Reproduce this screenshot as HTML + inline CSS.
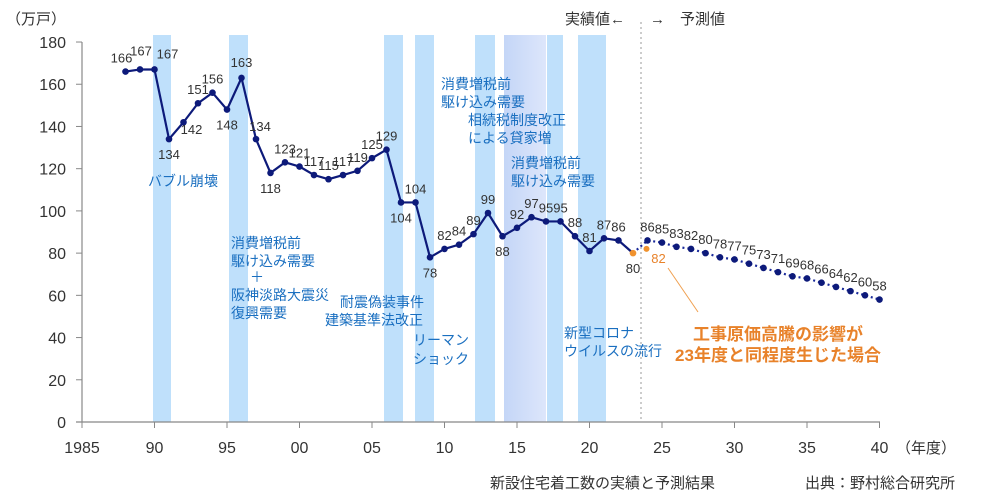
<!DOCTYPE html>
<html><head><meta charset="utf-8"><style>
body{margin:0;background:#fff;}
svg{display:block;font-family:"Liberation Sans","Noto Sans CJK JP",sans-serif;}
</style></head><body>
<svg id="s" width="1000" height="500" viewBox="0 0 1000 500" xmlns="http://www.w3.org/2000/svg">
<defs><linearGradient id="lg" x1="0" x2="1"><stop offset="0" stop-color="#c4d6f7"/><stop offset="1" stop-color="#dde6fb"/></linearGradient></defs>
<g fill="#bfe0fb">
<rect x="153" y="35" width="18" height="387"/>
<rect x="229" y="35" width="19" height="387"/>
<rect x="384" y="35" width="19" height="387"/>
<rect x="415" y="35" width="19" height="387"/>
<rect x="475" y="35" width="20" height="387"/>
<rect x="547" y="35" width="16" height="387"/>
<rect x="578" y="35" width="28" height="387"/>
</g>
<rect x="504" y="35" width="42" height="387" fill="url(#lg)"/>
<line x1="641" y1="22" x2="641" y2="422" stroke="#999" stroke-width="1" stroke-dasharray="2,3"/>
<g id="axes" stroke="#888" stroke-width="1.2" fill="none">
<line x1="82" y1="42" x2="82" y2="422"/>
<line x1="76" y1="422" x2="880" y2="422"/>
</g>
<g id="g"></g>
<g font-size="14" fill="#1a6fc0">
<text x="148" y="186">バブル崩壊</text>
<text x="231" y="248">消費増税前</text>
<text x="231" y="266">駆け込み需要</text>
<text x="250" y="282">＋</text>
<text x="231" y="300">阪神淡路大震災</text>
<text x="231" y="318">復興需要</text>
<text x="340" y="307">耐震偽装事件</text>
<text x="325" y="325">建築基準法改正</text>
<text x="413" y="345">リーマン</text>
<text x="413" y="364">ショック</text>
<text x="441" y="89">消費増税前</text>
<text x="441" y="107">駆け込み需要</text>
<text x="468" y="125">相続税制度改正</text>
<text x="468" y="143">による貸家増</text>
<text x="511" y="168">消費増税前</text>
<text x="511" y="186">駆け込み需要</text>
<text x="564" y="338">新型コロナ</text>
<text x="564" y="356">ウイルスの流行</text>
</g>
<g font-size="15" fill="#333">
<text x="565" y="24">実績値←</text>
<text x="650" y="24">→　予測値</text>
<text x="6" y="24">（万戸）</text>
<text x="490" y="488">新設住宅着工数の実績と予測結果</text>
<text x="805" y="488">出典：野村総合研究所</text>
<text x="896" y="453">（年度）</text>
</g>
<line x1="668" y1="268" x2="698" y2="312" stroke="#f0a050" stroke-width="1"/>
<g font-size="17" font-weight="bold" fill="#e8822a" text-anchor="middle">
<text x="778" y="340">工事原価高騰の影響が</text>
<text x="778" y="361">23年度と同程度生じた場合</text>
</g>
</svg>
<script>
const g=document.getElementById('g');const NS='http://www.w3.org/2000/svg';
function el(t,a,txt){const e=document.createElementNS(NS,t);for(const k in a)e.setAttribute(k,a[k]);if(txt!==undefined)e.textContent=txt;g.appendChild(e);return e;}
const X=y=>82+(y-1985)*14.5, Y=v=>422-v*2.111;
for(let v=0;v<=180;v+=20){el('line',{x1:76,y1:Y(v),x2:82,y2:Y(v),stroke:'#888'});el('text',{x:66,y:Y(v)+6,'font-size':16,fill:'#333','text-anchor':'end'},v);}
const lab={1985:'1985',1990:'90',1995:'95',2000:'00',2005:'05',2010:'10',2015:'15',2020:'20',2025:'25',2030:'30',2035:'35',2040:'40'};
for(const y in lab){el('line',{x1:X(+y),y1:422,x2:X(+y),y2:428,stroke:'#888'});el('text',{x:X(+y),y:453,'font-size':16,fill:'#333','text-anchor':'middle'},lab[y]);}
const act=[166,167,167,134,142,151,156,148,163,134,118,123,121,117,115,117,119,125,129,104,104,78,82,84,89,99,88,92,97,95,95,88,81,87,86,80];
const fc=[86,85,83,82,80,78,77,75,73,71,69,68,66,64,62,60,58];
const below={1991:1,1995:1,1998:1,2007:1,2009:1,2014:1,2023:1};
const off={1988:[-4,-9],1989:[1,-14],1990:[13,-11],1992:[8,12],1996:[0,-11],1997:[4,-8]};
let p=act.map((v,i)=>X(1988+i)+','+Y(v)).join(' ');
el('polyline',{points:p,fill:'none',stroke:'#0d1a7a','stroke-width':2.2});
let q=[X(2023)+','+Y(80)].concat(fc.map((v,i)=>X(2024+i)+','+Y(v))).join(' ');
el('polyline',{points:q,fill:'none',stroke:'#1a2a9a','stroke-width':2.2,'stroke-dasharray':'2,3'});
act.forEach((v,i)=>{const yr=1988+i,x=X(yr),y=Y(v);
 el('circle',{cx:x,cy:y,r:3.3,fill:yr==2023?'#f0922e':'#0d1a7a'});
 const b=below[yr];let dx=0,dy=b?20:-9;if(off[yr]){dx=off[yr][0];dy=off[yr][1];}
 el('text',{x:x+dx,y:y+dy,'font-size':13,fill:'#333','text-anchor':'middle'},v);});
fc.forEach((v,i)=>{const x=X(2024+i),y=Y(v);el('circle',{cx:x,cy:y,r:3.3,fill:'#0d1a7a'});
 el('text',{x:x,y:y-9,'font-size':13,fill:'#333','text-anchor':'middle'},v);});
el('circle',{cx:X(2024)-1,cy:Y(82),r:3,fill:'#f0922e'});
el('text',{x:X(2024)+11,y:Y(82)+14,'font-size':13,fill:'#e8822a','text-anchor':'middle'},'82');
</script>
</body></html>
